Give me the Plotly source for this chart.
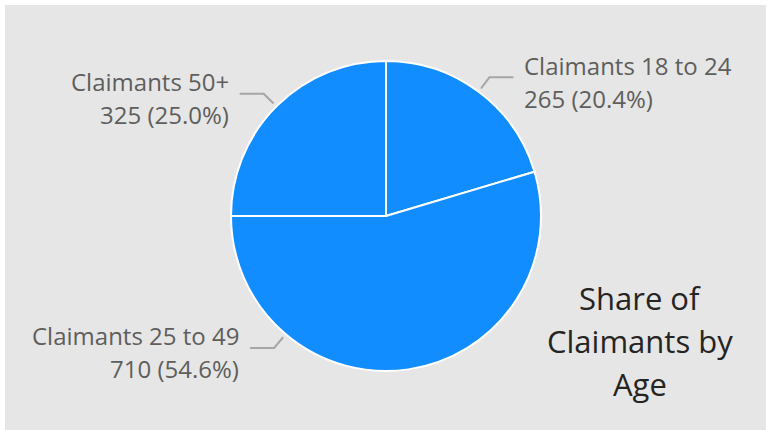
import math
import plotly.graph_objects as go

# ---- data ----
categories = ["Claimants 18 to 24", "Claimants 25 to 49", "Claimants 50+"]
values = [265, 710, 325]
title_lines = ["Share of", "Claimants by", "Age"]

# ---- style / layout ----
W, H = 771, 430
CX, CY, R = 386, 216, 155
BLUE = "#118DFF"
BG = "#E6E6E6"
LABEL_COLOR = "#605E5C"
TITLE_COLOR = "#252423"
LINE_COLOR = "#A6A6A6"
FONT = "Segoe UI, Open Sans, sans-serif"
LABEL_SIZE = 24
TITLE_SIZE = 31
# leader attach angle (deg clockwise from 12 o'clock); slice middle unless overridden
leader_angle_override = {1: 220.3}


def px(x):
    return x / W


def py(y):
    return 1 - y / H


fig = go.Figure(
    go.Pie(
        labels=categories,
        values=values,
        sort=False,
        direction="clockwise",
        rotation=0,
        marker=dict(colors=[BLUE] * len(values), line=dict(color="white", width=2)),
        textinfo="none",
        hoverinfo="label+value+percent",
        domain=dict(x=[px(CX - R), px(CX + R)], y=[py(CY + R), py(CY - R)]),
        showlegend=False,
    )
)

shapes = [
    dict(type="rect", xref="paper", yref="paper", x0=px(5), x1=px(766),
         y0=py(430), y1=py(5), fillcolor=BG, line=dict(width=0), layer="below")
]
annotations = []

total = sum(values)
cum = 0
for i, (lab, v) in enumerate(zip(categories, values)):
    mid = (cum + v / 2) / total * 360
    cum += v
    ang = leader_angle_override.get(i, mid)
    a = math.radians(ang)
    sx, sy = CX + (R + 4) * math.sin(a), CY - (R + 4) * math.cos(a)
    ex, ey = CX + (R + 18) * math.sin(a), CY - (R + 18) * math.cos(a)
    side = 1 if math.sin(a) > 0 else -1
    hx = ex + side * 24
    path = f"M {px(sx)},{py(sy)} L {px(ex)},{py(ey)} L {px(hx)},{py(ey)}"
    shapes.append(dict(type="path", xref="paper", yref="paper", path=path,
                       line=dict(color=LINE_COLOR, width=2)))
    tx = hx + side * 9
    pct = v / total * 100
    for txt, dy in [(lab, -12), (f"{v} ({pct:.1f}%)", 21)]:
        annotations.append(dict(
            x=px(tx), y=py(ey + dy), xref="paper", yref="paper", text=txt,
            showarrow=False, xanchor="left" if side > 0 else "right", yanchor="middle",
            font=dict(family=FONT, size=LABEL_SIZE, color=LABEL_COLOR)))

for j, t in enumerate(title_lines):
    annotations.append(dict(
        x=px(640), y=py(298 + 43 * j), xref="paper", yref="paper", text=t,
        showarrow=False, xanchor="center", yanchor="middle",
        font=dict(family=FONT, size=TITLE_SIZE, color=TITLE_COLOR)))

fig.update_layout(
    width=W, height=H,
    margin=dict(l=0, r=0, t=0, b=0),
    paper_bgcolor="white",
    shapes=shapes,
    annotations=annotations,
)

fig.write_html(
    "out.html",
    config={"displayModeBar": False},
    post_script="document.body.style.margin='0';document.body.style.overflow='hidden';",
)
